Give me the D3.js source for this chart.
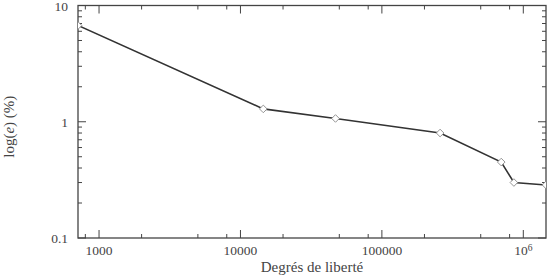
<!DOCTYPE html>
<html>
<head>
<meta charset="utf-8">
<script src="https://cdn.jsdelivr.net/npm/d3@7"></script>
<style>
	body { margin: 0; background: #fff; }
	text { font-family: "Liberation Serif", "DejaVu Serif", serif; fill: #444; }
</style>
</head>
<body>
<div id="chart"></div>
<script>

// data
var dof = [710, 14500, 47000, 258000, 698000, 858000, 1447000];
var err = [6.73, 1.29, 1.067, 0.80, 0.45, 0.30, 0.286];
var yTicks = [0.1, 1, 10];
var xTicks = [1000, 10000, 100000, 1000000];
var xMinor = [800, 2000, 5000, 8000, 20000, 50000, 80000, 200000, 500000, 800000];

var margin = {top: 5.5, right: 7, bottom: 40, left: 78},
	width = 553 - margin.left - margin.right,
	height = 278 - margin.top - margin.bottom;

var svg = d3.select("#chart").append("svg")
	.attr("width", 553)
	.attr("height", 278);

var g = svg.append("g")
	.attr("transform", "translate(" + margin.left + "," + margin.top + ")");

var x = d3.scaleLog()
	.domain([dof[0], dof[dof.length - 1]])
	.range([0, width]);

var y = d3.scaleLog()
	.domain([0.1, 10])
	.range([height, 0]);

var axisColor = "#444";

// y minor ticks 2..9 in each decade
var yMinor = [];
[0.1, 1].forEach(function (d) {
	for (var k = 2; k < 10; k++) yMinor.push(d * k);
});

// ticks drawn inwards on all four sides
function tickLines(vals, scale, len, side) {
	g.selectAll(null)
		.data(vals)
		.enter().append("line")
		.attr("stroke", axisColor)
		.attr("stroke-width", 1)
		.attr("x1", function (d) { return side == "l" ? 0 : side == "r" ? width : scale(d); })
		.attr("x2", function (d) { return side == "l" ? len : side == "r" ? width - len : scale(d); })
		.attr("y1", function (d) { return side == "b" ? height : side == "t" ? 0 : scale(d); })
		.attr("y2", function (d) { return side == "b" ? height - len : side == "t" ? len : scale(d); });
}

tickLines(yTicks, y, 8, "l");
tickLines(yTicks, y, 8, "r");
tickLines(yMinor, y, 4, "l");
tickLines(yMinor, y, 4, "r");
tickLines(xTicks, x, 8, "b");
tickLines(xTicks, x, 8, "t");
tickLines(xMinor, x, 4, "b");
tickLines(xMinor, x, 4, "t");

// frame
g.append("rect")
	.attr("width", width)
	.attr("height", height)
	.attr("fill", "none")
	.attr("stroke", axisColor)
	.attr("stroke-width", 1.3);

// y tick labels
g.selectAll(".ylab")
	.data(yTicks)
	.enter().append("text")
	.attr("class", "ylab")
	.attr("x", -10)
	.attr("y", function (d) { return y(d); })
	.attr("dy", "0.4em")
	.attr("text-anchor", "end")
	.style("font-size", "13.5px")
	.text(function (d) { return d; });

// x tick labels
var xl = g.selectAll(".xlab")
	.data(xTicks)
	.enter().append("text")
	.attr("class", "xlab")
	.attr("x", function (d) { return x(d); })
	.attr("y", height + 17)
	.attr("text-anchor", "middle")
	.style("font-size", "13.5px");

xl.filter(function (d) { return d < 1000000; })
	.text(function (d) { return d; });

var big = xl.filter(function (d) { return d >= 1000000; });
big.append("tspan").text("10");
big.append("tspan")
	.attr("dy", "-0.45em")
	.style("font-size", "9.5px")
	.text("6");

// axis titles
g.append("text")
	.attr("x", width / 2)
	.attr("y", height + 34)
	.attr("text-anchor", "middle")
	.style("font-size", "15px")
	.text("Degrés de liberté");

var yt = g.append("text")
	.attr("transform", "translate(" + (-64) + "," + (y(1) + 5) + ") rotate(-90)")
	.attr("text-anchor", "middle")
	.style("font-size", "15px");
yt.append("tspan").text("log(");
yt.append("tspan").style("font-style", "italic").text("e");
yt.append("tspan").text(") (%)");

// curve
var pts = dof.map(function (d, i) { return [d, err[i]]; });

var clip = svg.append("clipPath").attr("id", "clip")
	.append("rect")
	.attr("width", width)
	.attr("height", height);

var plot = g.append("g").attr("clip-path", "url(#clip)");

plot.append("path")
	.datum(pts)
	.attr("fill", "none")
	.attr("stroke", "#333")
	.attr("stroke-width", 1.6)
	.attr("d", d3.line()
		.x(function (d) { return x(d[0]); })
		.y(function (d) { return y(d[1]); }));

plot.selectAll(".pt")
	.data(pts)
	.enter().append("path")
	.attr("class", "pt")
	.attr("transform", function (d) { return "translate(" + x(d[0]) + "," + y(d[1]) + ")"; })
	.attr("d", "M0,-3.8L3.8,0L0,3.8L-3.8,0Z")
	.attr("fill", "#fff")
	.attr("stroke", "#888")
	.attr("stroke-width", 0.9);

</script>
</body>
</html>
